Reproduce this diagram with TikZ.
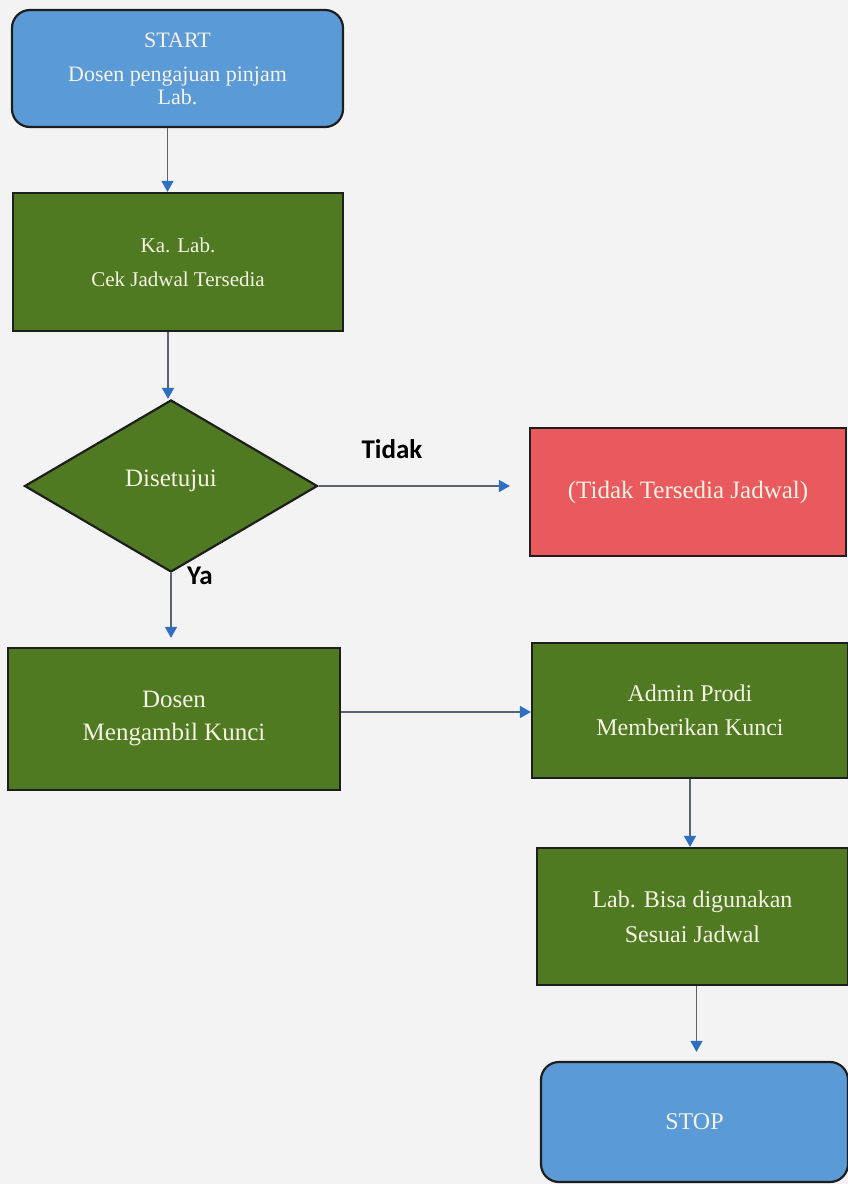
\documentclass[tikz,border=0pt]{standalone}
\usepackage{fontspec}
\setmainfont{Liberation Serif}
\newfontfamily\lblfont{Carlito}
\usetikzlibrary{arrows.meta,shapes.geometric}
\definecolor{bg}{HTML}{F3F3F3}
\definecolor{sblue}{HTML}{5A9AD6}
\definecolor{sgreen}{HTML}{4F7A22}
\definecolor{sred}{HTML}{E85A5E}
\definecolor{edgec}{HTML}{1E1E1E}
\definecolor{arrblue}{HTML}{2F6FC0}
\definecolor{linec}{HTML}{5A6470}
\definecolor{txt}{HTML}{F6F2E4}
\begin{document}
\begin{tikzpicture}[x=1pt,y=-1pt,
  base/.style={draw=edgec, line width=2.2pt, text=txt, align=center, inner sep=0pt,
    font=\fontsize{21}{34}\selectfont},
  greenbox/.style={base, fill=sgreen},
  bluebox/.style={base, fill=sblue, rounded corners=18pt},
  redbox/.style={base, fill=sred},
  decision/.style={base, fill=sgreen, diamond, aspect=1.7},
  conn/.style={draw=linec, line width=1.2pt, -{Triangle[width=12pt,length=11pt,fill=arrblue,color=arrblue]}},
  lbl/.style={font=\lblfont\bfseries\fontsize{27}{30}\selectfont, text=black}
]
\useasboundingbox[fill=bg] (0,0) rectangle (848,1184);

\node[bluebox, minimum width=331pt, minimum height=117pt, font=\fontsize{22}{23}\selectfont] (start) at (177.5,68.5)
  {START\\[11pt]Dosen pengajuan pinjam\\Lab.};
\node[greenbox, minimum width=330pt, minimum height=138pt] (kalab) at (178,262)
  {Ka. Lab.\\Cek Jadwal Tersedia};
\node[decision, minimum width=293pt, minimum height=172pt, font=\fontsize{25}{28}\selectfont] (dia) at (171,486)
  {\raisebox{16pt}{Disetujui}};
\node[redbox, minimum width=316pt, minimum height=128pt, font=\fontsize{25}{28}\selectfont] (tidak) at (688,492)
  {(Tidak Tersedia Jadwal)};
\node[greenbox, minimum width=332pt, minimum height=142pt, font=\fontsize{25}{33}\selectfont] (dosen) at (174,719)
  {Dosen\\Mengambil Kunci};
\node[greenbox, minimum width=316pt, minimum height=135pt, font=\fontsize{24}{34}\selectfont] (admin) at (690,710.5)
  {Admin Prodi\\Memberikan Kunci};
\node[greenbox, minimum width=311pt, minimum height=137pt, font=\fontsize{24}{35}\selectfont] (lab) at (692.5,916.5)
  {Lab. Bisa digunakan\\Sesuai Jadwal};
\node[bluebox, minimum width=307pt, minimum height=120pt, font=\fontsize{24}{28}\selectfont] (stop) at (694.5,1122)
  {STOP};

\draw[conn] ([xshift=-10pt]start.south) -- ([xshift=-10pt]start.south |- kalab.north);
\draw[conn] ([xshift=-10pt]kalab.south) -- ([xshift=-10pt]kalab.south |- dia.north);
\draw[conn, shorten >=19pt] (dia.east) -- (dia.east -| tidak.west);
\draw[conn, shorten >=9pt] (dia.south) -- (dia.south |- dosen.north);
\draw[conn] ([yshift=7pt]dosen.east) -- ([yshift=7pt]dosen.east -| admin.west);
\draw[conn] (admin.south) -- (admin.south |- lab.north);
\draw[conn, shorten >=9pt] ([xshift=4pt]lab.south) -- ([xshift=4pt]lab.south |- stop.north);

\node[lbl] (ltidak) at (392,449) {Tidak};
\node[lbl] (lya) at (200,576) {Ya};
\end{tikzpicture}
\end{document}
